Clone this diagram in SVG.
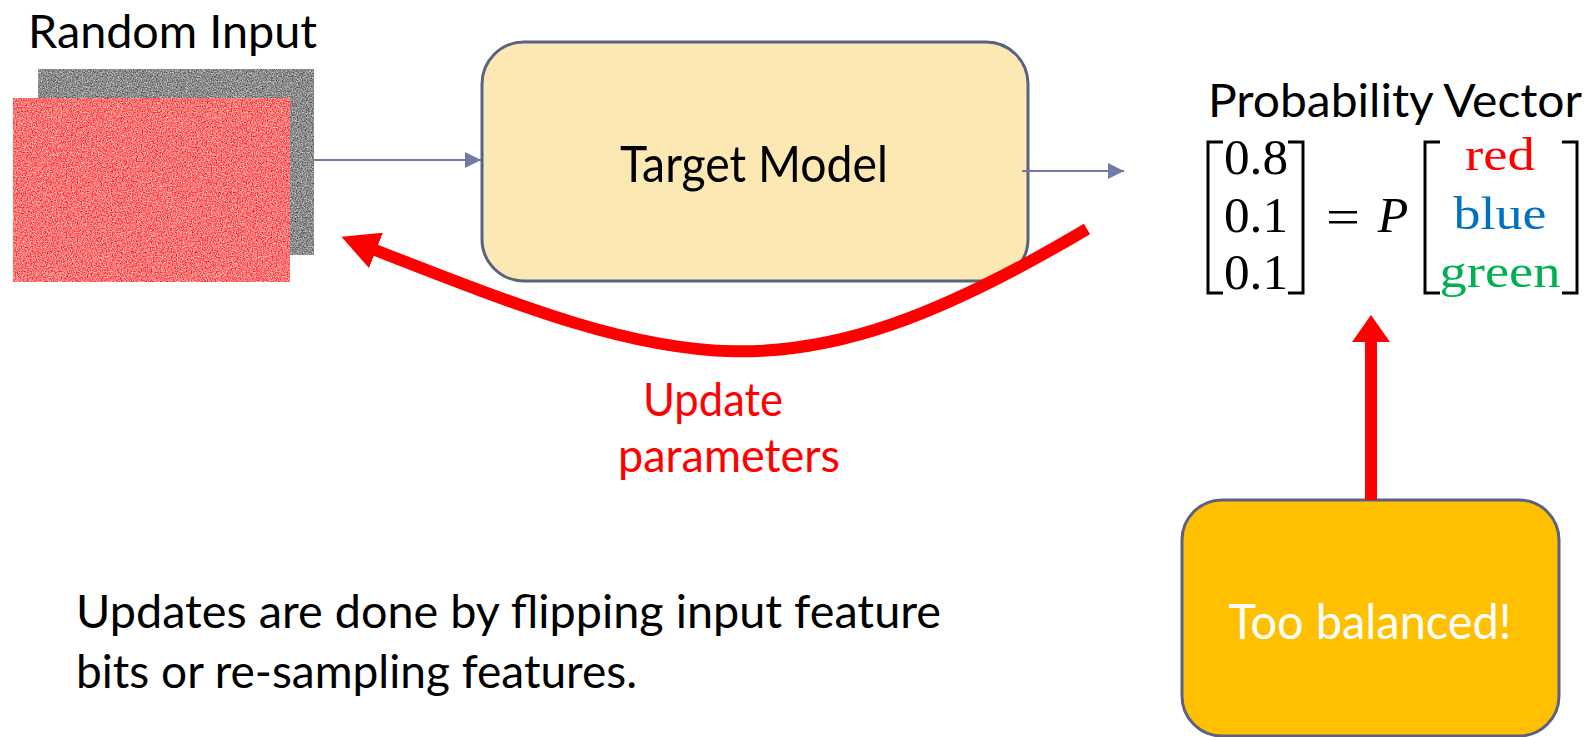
<svg xmlns="http://www.w3.org/2000/svg" width="1595" height="737" viewBox="0 0 1595 737">
  <style>
    .sans { font-family: Lato, "Open Sans", "Liberation Sans", sans-serif; }
    .math { font-family: "Liberation Serif", "DejaVu Serif", serif; font-size: 50px; }
    .word { font-family: "Liberation Serif", "DejaVu Serif", serif; font-size: 47px; }
    .box { stroke: #596283; stroke-width: 3; }
    .link { stroke: #6F7BA5; stroke-width: 2; fill: none; }
    .bracket { stroke: #000; stroke-width: 3; fill: none; }
    .update { stroke: #FF0000; stroke-width: 12; fill: none; }
  </style>
  <defs>
    <!-- grey pixel noise -->
    <filter id="noiseGrey" x="0" y="0" width="1" height="1" filterUnits="objectBoundingBox" color-interpolation-filters="sRGB">
      <feTurbulence type="fractalNoise" baseFrequency="0.8" numOctaves="3" seed="7"/>
      <feColorMatrix type="matrix" values="0.9 0 0 0 0.1  0.9 0 0 0 0.1  0.9 0 0 0 0.1  0 0 0 0 1"/>
    </filter>
    <!-- red pixel noise with pale speckles -->
    <filter id="noiseRed" x="0" y="0" width="1" height="1" filterUnits="objectBoundingBox" color-interpolation-filters="sRGB">
      <feTurbulence type="fractalNoise" baseFrequency="0.8" numOctaves="3" seed="3"/>
      <feColorMatrix type="matrix" values="0 0 0 0 1  1.3 0 0 0 -0.2  1.3 0 0 0 -0.2  0 0 0 0 1"/>
    </filter>
    <marker id="slateHead" markerUnits="userSpaceOnUse" markerWidth="18" markerHeight="18" refX="16" refY="8" orient="auto">
      <path d="M0,0 L16,8 L0,16 z" fill="#6F7BA5"/>
    </marker>
    <marker id="redHead" markerUnits="userSpaceOnUse" markerWidth="40" markerHeight="40" refX="1" refY="19" orient="auto">
      <path d="M0,0 L37,19 L0,38 z" fill="#FF0000"/>
    </marker>
    <marker id="redHeadUp" markerUnits="userSpaceOnUse" markerWidth="40" markerHeight="40" refX="1" refY="19" orient="auto">
      <path d="M0,0 L27,19 L0,38 z" fill="#FF0000"/>
    </marker>
  </defs>

  <rect width="1595" height="737" fill="#FFFFFF"/>

  <!-- random input stack -->
  <g id="random-input">
    <text class="sans" x="28" y="48" font-size="46" fill="#000" textLength="289" lengthAdjust="spacingAndGlyphs">Random Input</text>
    <rect x="38" y="69" width="276" height="186" fill="#888" filter="url(#noiseGrey)"/>
    <rect x="13" y="98" width="277" height="184" fill="#F55" filter="url(#noiseRed)"/>
  </g>

  <!-- model -->
  <g id="target-model">
    <rect class="box" x="482" y="42" width="546" height="239" rx="42" ry="42" fill="#FCE8B2"/>
    <text class="sans" x="754" y="182" font-size="50" fill="#000" text-anchor="middle" textLength="268" lengthAdjust="spacingAndGlyphs">Target Model</text>
  </g>

  <!-- output vector -->
  <g id="probability-vector">
    <text class="sans" x="1208" y="117" font-size="46" fill="#000" textLength="374" lengthAdjust="spacingAndGlyphs">Probability  Vector</text>
    <path class="bracket" d="M1223,142 H1208 V293 H1223"/>
    <path class="bracket" d="M1288,142 H1303 V293 H1288"/>
    <text class="math" x="1256" y="174" text-anchor="middle" textLength="64" lengthAdjust="spacingAndGlyphs">0.8</text>
    <text class="math" x="1256" y="232" text-anchor="middle" textLength="64" lengthAdjust="spacingAndGlyphs">0.1</text>
    <text class="math" x="1256" y="289" text-anchor="middle" textLength="64" lengthAdjust="spacingAndGlyphs">0.1</text>
    <text class="math" x="1343" y="234" text-anchor="middle" font-size="60" textLength="34" lengthAdjust="spacingAndGlyphs">=</text>
    <text class="math" x="1393" y="232" text-anchor="middle" font-style="italic">P</text>
    <path class="bracket" d="M1440,142 H1425 V293 H1440"/>
    <path class="bracket" d="M1562,142 H1577 V293 H1562"/>
    <text class="word" x="1500" y="170" text-anchor="middle" fill="#FF0000" textLength="70" lengthAdjust="spacingAndGlyphs">red</text>
    <text class="word" x="1500" y="229" text-anchor="middle" fill="#0070C0" textLength="93" lengthAdjust="spacingAndGlyphs">blue</text>
    <text class="word" x="1500" y="287" text-anchor="middle" fill="#00B050" textLength="121" lengthAdjust="spacingAndGlyphs">green</text>
  </g>

  <!-- verdict box -->
  <g id="too-balanced">
    <rect class="box" x="1182" y="500" width="377" height="236" rx="40" ry="40" fill="#FFC000"/>
    <text class="sans" x="1370" y="639" font-size="49" fill="#FFFFFF" text-anchor="middle" textLength="283" lengthAdjust="spacingAndGlyphs">Too balanced!</text>
  </g>

  <!-- update label -->
  <g id="update-label" class="sans" fill="#FF0000" font-size="46">
    <text x="713" y="416" text-anchor="middle" textLength="140" lengthAdjust="spacingAndGlyphs">Update</text>
    <text x="729" y="472" text-anchor="middle" textLength="222" lengthAdjust="spacingAndGlyphs">parameters</text>
  </g>

  <!-- note -->
  <g id="note" class="sans" fill="#000" font-size="47">
    <text x="76" y="628" textLength="865" lengthAdjust="spacingAndGlyphs">Updates are done by flipping input feature</text>
    <text x="76" y="688" textLength="561" lengthAdjust="spacingAndGlyphs">bits or re-sampling features.</text>
  </g>

  <!-- connectors -->
  <g id="connectors">
    <path class="link" d="M314,160 H481" marker-end="url(#slateHead)"/>
    <path class="link" d="M1022,171 H1124" marker-end="url(#slateHead)"/>
    <path class="update" d="M1087,229 C787,407 681,370 375,250" marker-end="url(#redHead)"/>
    <path class="update" d="M1371,500 V341" marker-end="url(#redHeadUp)"/>
  </g>
</svg>
